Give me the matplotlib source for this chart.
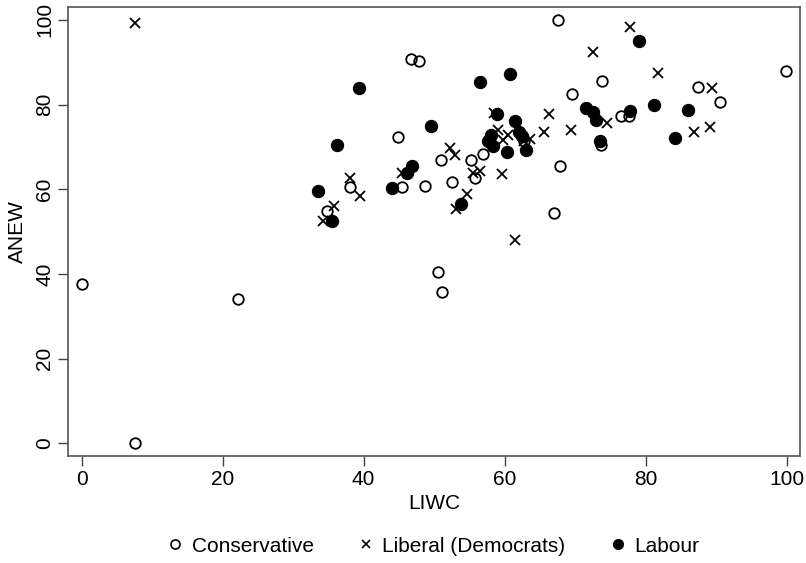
import matplotlib
matplotlib.use("Agg")
import matplotlib.pyplot as plt
from matplotlib.lines import Line2D

plt.rcParams['font.family'] = ['Liberation Sans', 'DejaVu Sans']

# Conservative
con_x = [0.0, 7.6, 22.2, 34.8, 38.1, 44.9, 45.4, 46.7, 47.8, 48.7, 50.6, 51.0, 51.1,
         52.6, 55.2, 55.8, 56.9, 62.7, 67.0, 67.5, 67.8, 69.6, 73.6, 73.8, 76.5, 77.7,
         87.5, 90.6, 99.9]
con_y = [37.6, 0.0, 34.1, 54.8, 60.6, 72.3, 60.5, 90.7, 90.3, 60.8, 40.5, 66.9, 35.7,
         61.7, 66.9, 62.6, 68.3, 71.5, 54.3, 100.0, 65.5, 82.4, 70.4, 85.6, 77.4, 77.3,
         84.1, 80.6, 88.0]

# Liberal (Democrats)
lib_x = [7.6, 34.3, 35.8, 38.0, 39.5, 45.5, 52.2, 52.9, 53.1, 54.7, 55.5, 56.5, 58.5,
         59.1, 59.8, 60.5, 59.6, 61.5, 62.8, 63.6, 65.6, 66.3, 69.4, 72.5, 74.5, 77.8,
         81.8, 86.8, 89.1, 89.4]
lib_y = [99.2, 52.4, 56.1, 62.6, 58.5, 63.9, 69.8, 68.0, 55.3, 58.9, 63.8, 64.2, 78.0,
         73.9, 71.7, 72.8, 63.6, 47.9, 71.3, 71.8, 73.4, 77.8, 73.9, 92.5, 75.7, 98.2,
         87.4, 73.5, 74.6, 83.9]

# Labour
lab_x = [33.5, 35.5, 36.2, 39.3, 44.0, 46.1, 46.8, 49.6, 53.8, 56.5, 57.7, 58.0, 58.4,
         58.9, 60.4, 60.7, 61.4, 62.1, 62.4, 63.0, 71.5, 72.6, 73.0, 73.5, 77.8, 79.1,
         81.2, 84.2, 86.0]
lab_y = [59.6, 52.6, 70.4, 83.8, 60.4, 63.8, 65.6, 74.9, 56.5, 85.4, 71.5, 72.8, 70.1,
         77.8, 68.9, 87.2, 76.2, 73.5, 72.6, 69.3, 79.1, 78.3, 76.4, 71.5, 78.5, 95.1,
         79.9, 72.2, 78.7]

series_names = ["Conservative", "Liberal (Democrats)", "Labour"]
x_ticks = [0, 20, 40, 60, 80, 100]
y_ticks = [0, 20, 40, 60, 80, 100]

fig = plt.figure(figsize=(8.06, 5.63), dpi=100)
ax = fig.add_axes([68.3 / 806, 1 - 456 / 563, (800 - 68.3) / 806, (456 - 6.7) / 563])

ax.plot(con_x, con_y, linestyle='none', marker='o', ms=7.6, mfc='none', mec='black', mew=1.3)
ax.plot(lib_x, lib_y, linestyle='none', marker='x', ms=7.0, color='black', mew=1.3)
ax.plot(lab_x, lab_y, linestyle='none', marker='o', ms=8.8, mfc='black', mec='black', mew=0.8)

ax.set_xlim(-1.9, 101.9)
ax.set_ylim(-3.0, 103.1)
ax.set_xticks(x_ticks)
ax.set_yticks(y_ticks)
ax.set_xticklabels([str(t) for t in x_ticks], fontsize=15)
ax.set_yticklabels([str(t) for t in y_ticks], fontsize=15, rotation=90, va='center')
ax.tick_params(direction='out', length=7, width=1, color='#444444', pad=3)
for s in ax.spines.values():
    s.set_color('#555555')
    s.set_linewidth(1.2)

ax.set_xlabel("LIWC", fontsize=15, labelpad=4)
ax.set_ylabel("ANEW", fontsize=15, labelpad=6)

handles = [
    Line2D([], [], linestyle='none', marker='o', ms=6.5, mfc='none', mec='black', mew=1.2),
    Line2D([], [], linestyle='none', marker='x', ms=6.0, color='black', mew=1.2),
    Line2D([], [], linestyle='none', marker='o', ms=7.0, mfc='black', mec='black'),
]
fig.legend(handles, series_names, loc='center', bbox_to_anchor=(432 / 806, 1 - 546 / 563),
           ncol=3, frameon=False, fontsize=15, handletextpad=0.3, columnspacing=2.0,
           handlelength=1.0)

fig.savefig("out.png", dpi=100)
